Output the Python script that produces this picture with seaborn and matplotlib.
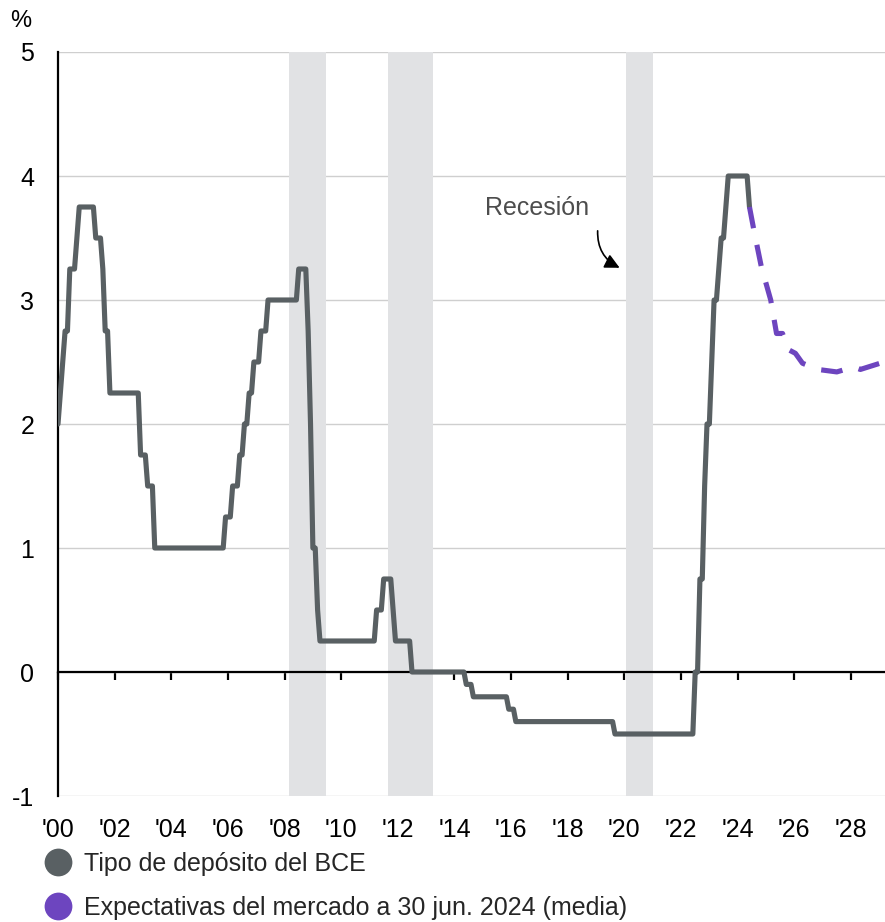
import numpy as np
import pandas as pd
import matplotlib
matplotlib.use("Agg")
import matplotlib.pyplot as plt
from matplotlib.lines import Line2D
import seaborn as sns

# ECB deposit facility rate: effective date of each change and the new rate (%)
ecb_change_dates = [
    "1999-11-05", "2000-02-04", "2000-03-17", "2000-04-28", "2000-06-09",
    "2000-09-01", "2000-10-06", "2001-05-11", "2001-08-31", "2001-09-18",
    "2001-11-09", "2002-12-06", "2003-03-07", "2003-06-06", "2005-12-06",
    "2006-03-08", "2006-06-15", "2006-08-09", "2006-10-11", "2006-12-13",
    "2007-03-14", "2007-06-13", "2008-07-09", "2008-10-08", "2008-10-09",
    "2008-11-12", "2008-12-10", "2009-01-21", "2009-03-11", "2009-04-08",
    "2011-04-13", "2011-07-13", "2011-11-09", "2011-12-14", "2012-07-11",
    "2014-06-11", "2014-09-10", "2015-12-09", "2016-03-16", "2019-09-18",
    "2022-07-27", "2022-09-14", "2022-11-02", "2022-12-21", "2023-02-08",
    "2023-03-22", "2023-05-10", "2023-06-21", "2023-08-02", "2023-09-20",
    "2024-06-12",
]
ecb_change_rates = [
    2.00, 2.25, 2.50, 2.75, 3.25,
    3.50, 3.75, 3.50, 3.25, 2.75,
    2.25, 1.75, 1.50, 1.00, 1.25,
    1.50, 1.75, 2.00, 2.25, 2.50,
    2.75, 3.00, 3.25, 2.75, 3.25,
    2.75, 2.00, 1.00, 0.50, 0.25,
    0.50, 0.75, 0.50, 0.25, 0.00,
    -0.10, -0.20, -0.30, -0.40, -0.50,
    0.00, 0.75, 1.50, 2.00, 2.50,
    3.00, 3.25, 3.50, 3.75, 4.00,
    3.75,
]
series_start, series_end = "2000-01-01", "2024-06-01"

# Market-implied path of the deposit rate as of 30 June 2024 (mean)
market_dates = [
    "2024-06-01", "2024-08-01", "2024-11-01", "2025-03-01", "2025-05-15",
    "2025-08-01", "2025-10-15", "2026-01-15", "2026-04-15", "2026-11-01",
    "2027-07-01", "2028-02-01", "2028-05-01", "2028-10-01", "2029-03-01",
]
market_rates = [
    3.75, 3.55, 3.27, 3.00, 2.73,
    2.73, 2.60, 2.57, 2.49, 2.44,
    2.42, 2.46, 2.44, 2.47, 2.50,
]

# Euro area recessions (start, end) in decimal years
recessions = [(2008.16, 2009.48), (2011.65, 2013.23), (2020.06, 2021.0)]

x_ticks = list(range(2000, 2029, 2))
x_tick_labels = ["'00", "'02", "'04", "'06", "'08", "'10", "'12", "'14",
                 "'16", "'18", "'20", "'22", "'24", "'26", "'28"]
y_ticks = [-1, 0, 1, 2, 3, 4, 5]
y_tick_labels = ["-1", "0", "1", "2", "3", "4", "5"]

series_labels = ["Tipo de depósito del BCE",
                 "Expectativas del mercado a 30 jun. 2024 (media)"]

GREY = "#596063"
PURPLE = "#6d45bf"
SHADE = "#e1e2e4"


def decimal_year(ts):
    ts = pd.DatetimeIndex(ts)
    return ts.year + (ts.month - 1) / 12 + (ts.day - 1) / 365.0


# Monthly series: rate in force at the end of each month
months = pd.date_range(series_start, series_end, freq="MS")
month_ends = months + pd.offsets.MonthEnd(0)
change_idx = pd.DatetimeIndex(pd.to_datetime(ecb_change_dates))
pos = np.searchsorted(change_idx.values, month_ends.values, side="right") - 1
ecb_df = pd.DataFrame({
    "year": decimal_year(months),
    "rate": np.asarray(ecb_change_rates)[pos],
})
mkt_df = pd.DataFrame({
    "year": decimal_year(pd.to_datetime(market_dates)),
    "rate": market_rates,
})

sns.set_style("white")
plt.rcParams["font.family"] = ["Liberation Sans", "DejaVu Sans"]

W, H = 885, 922
fig = plt.figure(figsize=(W / 100, H / 100), dpi=100)
ax = fig.add_axes([58 / W, 1 - 796 / H, (W - 58) / W, (796 - 52) / H])

x_right = 2000 + (W - 58) / 28.32
ax.set_xlim(2000, x_right)
ax.set_ylim(-1, 5)

# recession bands
for start, end in recessions:
    ax.axvspan(start, end, color=SHADE, lw=0, zorder=1)

sns.lineplot(data=ecb_df, x="year", y="rate", color=GREY, lw=3.7,
             ax=ax, legend=False, zorder=3)
sns.lineplot(data=mkt_df, x="year", y="rate", color=PURPLE, lw=3.7,
             linestyle=(0, (4.2, 3.3)), ax=ax, legend=False, zorder=3)

# grid and axes styling
ax.set_axisbelow(True)
ax.yaxis.grid(True, color="#cfcfcf", lw=1.0)
ax.xaxis.grid(False)
ax.set_yticks(y_ticks)
ax.set_yticklabels(y_tick_labels)
ax.tick_params(axis="y", left=False, length=0, pad=17, labelsize=18,
               labelcolor="black")
ax.set_xlabel("")
ax.set_ylabel("")

for side in ("top", "right"):
    ax.spines[side].set_visible(False)
ax.spines["left"].set_color("black")
ax.spines["left"].set_linewidth(1.6)
ax.spines["bottom"].set_position(("data", 0))
ax.spines["bottom"].set_color("black")
ax.spines["bottom"].set_linewidth(1.6)
ax.spines["bottom"].set_zorder(2.5)

# year tick marks hang below the zero line
ax.set_xticks(x_ticks)
ax.tick_params(axis="x", bottom=True, direction="out", length=5.5, width=1.6,
               color="black", labelbottom=False)

# year labels along the bottom edge
sec = ax.secondary_xaxis("bottom")
sec.set_xticks(x_ticks)
sec.set_xticklabels(x_tick_labels)
sec.tick_params(bottom=False, length=0, pad=16, labelsize=18,
                labelcolor="black")
sec.spines["bottom"].set_visible(False)

# unit label
fig.text(10 / W, 1 - 27 / H, "%", fontsize=17, color="black",
         ha="left", va="baseline")

# recession annotation
ax.text(2015.08, 3.685, "Recesión", fontsize=18, color="#4d4d4d",
        ha="left", va="baseline")
ax.annotate("", xy=(2019.92, 3.25), xytext=(2019.06, 3.58),
            arrowprops=dict(arrowstyle="-|>", color="black", lw=1.2,
                            mutation_scale=22,
                            connectionstyle="arc3,rad=0.35"))

# legend
handles = [
    Line2D([], [], ls="", marker="o", ms=20, markerfacecolor=GREY,
           markeredgewidth=0),
    Line2D([], [], ls="", marker="o", ms=20, markerfacecolor=PURPLE,
           markeredgewidth=0),
]
fig.legend(handles, series_labels, loc="upper left",
           bbox_to_anchor=(43 / W, 1 - 852 / H), frameon=False,
           fontsize=18, handlelength=1.2, handletextpad=0.45,
           borderpad=0, borderaxespad=0, labelspacing=0.78)

fig.savefig("out.png", dpi=100)
